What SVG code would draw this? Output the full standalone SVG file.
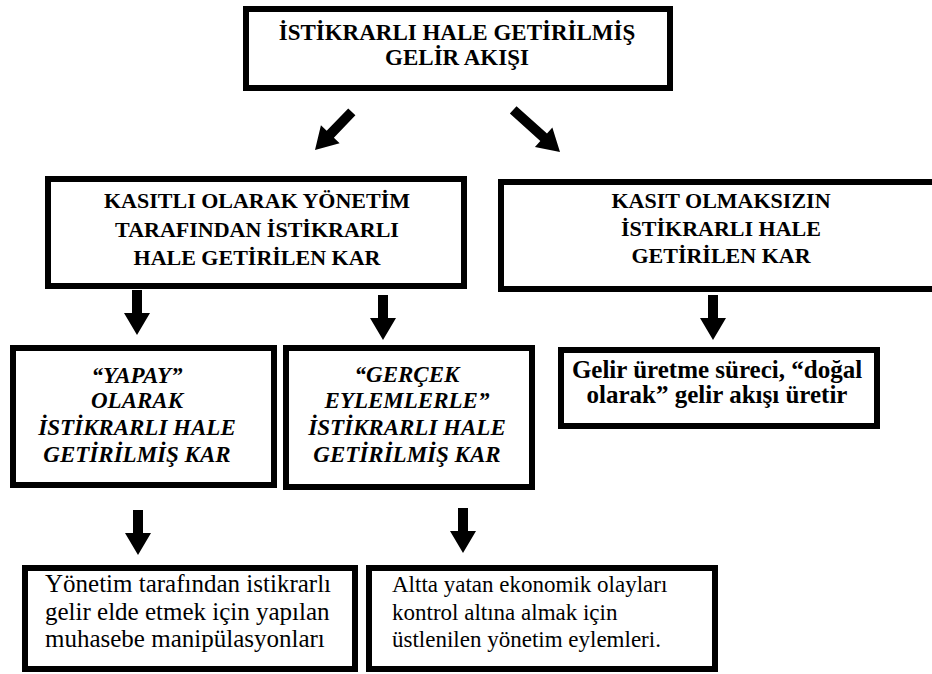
<svg xmlns="http://www.w3.org/2000/svg" width="932" height="674" viewBox="0 0 932 674">
<style>
.box{fill:#fff;stroke:#000;stroke-width:6}
.b{font-weight:bold;text-anchor:middle}
.bi{font-weight:bold;font-style:italic;text-anchor:middle;font-size:23px}
.r{font-size:25px}
.arr{fill:#000}
</style>
<defs>
<path id="down" d="M-5,-45 H5 V-22 H13 L0,0 L-13,-22 H-5 Z"/>
</defs>
<rect width="932" height="674" fill="#fff"/>

<g id="top">
<rect class="box" x="246" y="9" width="424" height="79"/>
<text font-family="Liberation Serif, serif" class="b" x="457" y="40" font-size="23">İSTİKRARLI HALE GETİRİLMİŞ</text>
<text font-family="Liberation Serif, serif" class="b" x="457" y="65" font-size="23">GELİR AKIŞI</text>
</g>

<g id="kasitli">
<rect class="box" x="48" y="179" width="416" height="107"/>
<text font-family="Liberation Serif, serif" class="b" x="257" y="208" font-size="22">KASITLI OLARAK YÖNETİM</text>
<text font-family="Liberation Serif, serif" class="b" x="257" y="237" font-size="22">TARAFINDAN İSTİKRARLI</text>
<text font-family="Liberation Serif, serif" class="b" x="257" y="265" font-size="22">HALE GETİRİLEN KAR</text>
</g>

<g id="kasitsiz">
<rect class="box" x="501" y="182" width="460" height="107"/>
<text font-family="Liberation Serif, serif" class="b" x="721" y="208" font-size="22">KASIT OLMAKSIZIN</text>
<text font-family="Liberation Serif, serif" class="b" x="721" y="236" font-size="22">İSTİKRARLI HALE</text>
<text font-family="Liberation Serif, serif" class="b" x="721" y="263" font-size="22">GETİRİLEN KAR</text>
</g>

<g id="yapay">
<rect class="box" x="13" y="348" width="261" height="137"/>
<text font-family="Liberation Serif, serif" class="bi" x="137" y="383">“YAPAY”</text>
<text font-family="Liberation Serif, serif" class="bi" x="137" y="408">OLARAK</text>
<text font-family="Liberation Serif, serif" class="bi" x="137" y="435">İSTİKRARLI HALE</text>
<text font-family="Liberation Serif, serif" class="bi" x="137" y="462">GETİRİLMİŞ KAR</text>
</g>

<g id="gercek">
<rect class="box" x="286" y="348" width="246" height="139"/>
<text font-family="Liberation Serif, serif" class="bi" x="407" y="382">“GERÇEK</text>
<text font-family="Liberation Serif, serif" class="bi" x="407" y="408">EYLEMLERLE”</text>
<text font-family="Liberation Serif, serif" class="bi" x="407" y="435">İSTİKRARLI HALE</text>
<text font-family="Liberation Serif, serif" class="bi" x="407" y="462">GETİRİLMİŞ KAR</text>
</g>

<g id="dogal">
<rect class="box" x="561" y="350" width="316" height="76"/>
<text font-family="Liberation Serif, serif" class="b" x="717" y="378" font-size="25">Gelir üretme süreci, “doğal</text>
<text font-family="Liberation Serif, serif" class="b" x="717" y="403" font-size="25">olarak” gelir akışı üretir</text>
</g>

<g id="muhasebe">
<rect class="box" x="25" y="568" width="330" height="101"/>
<text font-family="Liberation Serif, serif" class="r" x="45" y="592">Yönetim tarafından istikrarlı</text>
<text font-family="Liberation Serif, serif" class="r" x="45" y="620">gelir elde etmek için yapılan</text>
<text font-family="Liberation Serif, serif" class="r" x="45" y="647">muhasebe manipülasyonları</text>
</g>

<g id="eylemler">
<rect class="box" x="369" y="568" width="346" height="101"/>
<text font-family="Liberation Serif, serif" font-size="23" x="392" y="592">Altta yatan ekonomik olayları</text>
<text font-family="Liberation Serif, serif" font-size="23" x="392" y="620">kontrol altına almak için</text>
<text font-family="Liberation Serif, serif" font-size="23" x="392" y="647">üstlenilen yönetim eylemleri.</text>
</g>

<g id="connectors" class="arr">
<path transform="translate(315,150) rotate(44)" d="M-5,-53 H5 V-22 H13 L0,0 L-13,-22 H-5 Z"/>
<path transform="translate(560,152) rotate(-48)" d="M-5,-63 H5 V-22 H13 L0,0 L-13,-22 H-5 Z"/>
<use href="#down" transform="translate(137,335)"/>
<use href="#down" transform="translate(383,340)"/>
<use href="#down" transform="translate(713,340)"/>
<use href="#down" transform="translate(138,555)"/>
<use href="#down" transform="translate(463,553)"/>
</g>
</svg>
